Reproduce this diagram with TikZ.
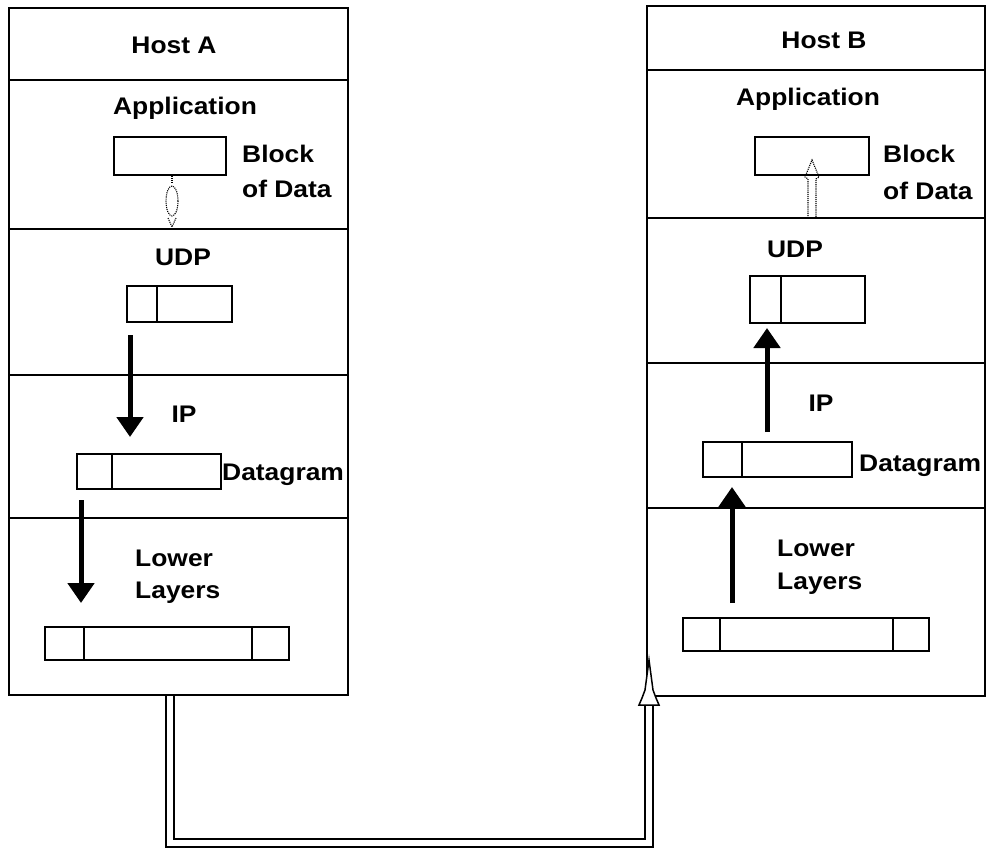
\documentclass[tikz,border=0pt]{standalone}
\usepackage{fontspec}
\newfontfamily\lbl{Liberation Sans}[FakeStretch=1.1]
\usetikzlibrary{arrows.meta,calc}
\begin{document}
\begin{tikzpicture}[x=1pt,y=-1pt,
  hostbox/.style={draw,line width=2pt,inner sep=0pt},
  pkt/.style={draw,line width=1.8pt,inner sep=0pt,fill=white},
  lab/.style={font=\lbl\bfseries\fontsize{24}{27}\selectfont,inner sep=0pt},
  layerline/.style={line width=1.8pt},
  thick arrow/.style={line width=5pt,-{Triangle[width=26pt,length=20pt]}},
  dotarrow/.style={line width=1.1pt,densely dotted},
  wire/.style={double,double distance=5.5pt,line width=1.8pt}]
\useasboundingbox (0,0) rectangle (987,848);

% Host boxes
\node[hostbox,minimum width=339pt,minimum height=687pt] (hostA) at (178.5,351.5) {};
\node[hostbox,minimum width=338pt,minimum height=690pt] (hostB) at (816,351) {};

% layer lines
\foreach \yy in {80,229,375,518}{\draw[layerline] (hostA.west |- 0,\yy) -- (hostA.east |- 0,\yy);}
\foreach \yy in {70,218,363,508}{\draw[layerline] (hostB.west |- 0,\yy) -- (hostB.east |- 0,\yy);}

% labels host A
\node[lab,anchor=base] (tHA) at (174,54) {Host A};
\node[lab,anchor=base] (tAppA) at (185,114) {Application};
\node[lab,anchor=base west] (tBlkA1) at (242,162) {Block};
\node[lab,anchor=base west] (tBlkA2) at (242,197) {of Data};
\node[lab,anchor=base] (tUdpA) at (183,265) {UDP};
\node[lab,anchor=base] (tIpA) at (184,422) {IP};
\node[lab,anchor=base west] (tDgA) at (222,480) {Datagram};
\node[lab,anchor=base west] (tLowA1) at (135,566) {Lower};
\node[lab,anchor=base west] (tLowA2) at (135,598) {Layers};

% labels host B
\node[lab,anchor=base] (tHB) at (824,49) {Host B};
\node[lab,anchor=base] (tAppB) at (808,106) {Application};
\node[lab,anchor=base west] (tBlkB1) at (883,162) {Block};
\node[lab,anchor=base west] (tBlkB2) at (883,199) {of Data};
\node[lab,anchor=base] (tUdpB) at (795,257) {UDP};
\node[lab,anchor=base] (tIpB) at (821,411) {IP};
\node[lab,anchor=base west] (tDgB) at (859,471) {Datagram};
\node[lab,anchor=base west] (tLowB1) at (777,556) {Lower};
\node[lab,anchor=base west] (tLowB2) at (777,589) {Layers};

% packets host A
\node[pkt,minimum width=112pt,minimum height=38pt] (blkA) at (170,156) {};
\node[pkt,minimum width=105pt,minimum height=36pt] (udpA) at (179.5,304) {};
\draw[layerline] ($(udpA.north west)+(31,0)$) -- ($(udpA.south west)+(31,0)$);
\node[pkt,minimum width=144pt,minimum height=35pt] (dgA) at (149,471.5) {};
\draw[layerline] ($(dgA.north west)+(36,0)$) -- ($(dgA.south west)+(36,0)$);
\node[pkt,minimum width=244pt,minimum height=33pt] (lowA) at (167,643.5) {};
\draw[layerline] ($(lowA.north west)+(40,0)$) -- ($(lowA.south west)+(40,0)$);
\draw[layerline] ($(lowA.north east)+(-38,0)$) -- ($(lowA.south east)+(-38,0)$);

% packets host B
\node[pkt,minimum width=114pt,minimum height=38pt] (blkB) at (812,156) {};
\node[pkt,minimum width=115pt,minimum height=47pt] (udpB) at (807.5,299.5) {};
\draw[layerline] ($(udpB.north west)+(32,0)$) -- ($(udpB.south west)+(32,0)$);
\node[pkt,minimum width=149pt,minimum height=35pt] (dgB) at (777.5,459.5) {};
\draw[layerline] ($(dgB.north west)+(40,0)$) -- ($(dgB.south west)+(40,0)$);
\node[pkt,minimum width=246pt,minimum height=33pt] (lowB) at (806,634.5) {};
\draw[layerline] ($(lowB.north west)+(38,0)$) -- ($(lowB.south west)+(38,0)$);
\draw[layerline] ($(lowB.north east)+(-37,0)$) -- ($(lowB.south east)+(-37,0)$);

% thick arrows
\coordinate (a1s) at (130,335); \coordinate (a1e) at (130,437);
\coordinate (a2s) at (81,500);  \coordinate (a2e) at (81,603);
\coordinate (b1s) at (767,432); \coordinate (b1e) at (767,328);
\coordinate (b2s) at (732,603); \coordinate (b2e) at (732,487);
\draw[thick arrow] (a1s) -- (a1e);
\draw[thick arrow] (a2s) -- (a2e);
\draw[thick arrow] (b1s) -- (b1e);
\draw[thick arrow] (b2s) -- (b2e);

% dotted arrow host A (down)
\draw[dotarrow] (blkA.south -| 172,0) -- (172,184);
\draw[dotarrow] (172,201) ellipse [x radius=6, y radius=15];
\draw[dotarrow] (168,218) -- (172,227) -- (176,218);
% dotted arrow host B (up)
\coordinate (dbTip) at (812,160);
\draw[dotarrow] (808,218) -- (808,179) -- (805,177) -- (dbTip) -- (819,177) -- (816,179) -- (816,218);

% wire between hosts
\coordinate (wA) at (170,696);
\coordinate (wB) at (649,704);
\draw[wire] (wA) -- (170,843) -- (649,843) -- (wB);
\coordinate (hTip) at (649,660);
\draw[line width=1.5pt,fill=white,line join=miter]
  (639,705) -- (642,698) -- (645,690) -- (647,675) -- (hTip) -- (651,675) -- (653,690) -- (656,698) -- (659,705) -- cycle;
\end{tikzpicture}
\end{document}
